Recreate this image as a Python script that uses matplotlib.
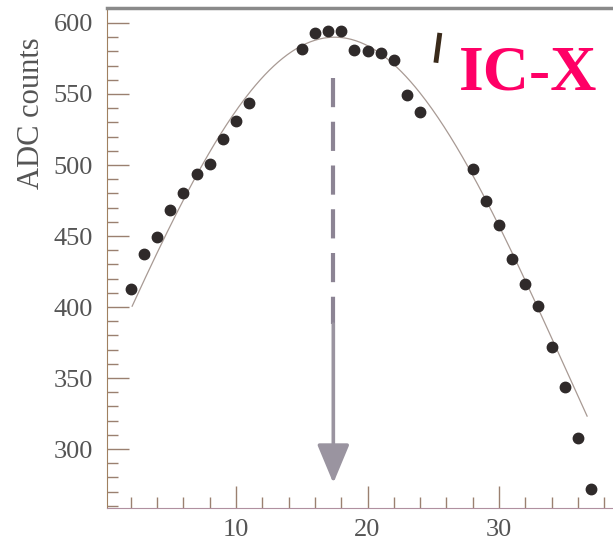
import matplotlib
matplotlib.use('Agg')
import matplotlib.pyplot as plt
import numpy as np

# measured points (channel, ADC counts)
channel = [2, 3, 4, 5, 6, 7, 8, 9, 10, 11,
           15, 16, 17, 18, 19, 20, 21, 22, 23, 24,
           28, 29, 30, 31, 32, 33, 34, 35, 36, 37]
adc = [413, 437, 449, 468, 480, 494, 501, 518, 531, 544,
       582, 593, 594, 594, 581, 580, 579, 574, 549, 537,
       497, 475, 458, 434, 416, 401, 372, 344, 308, 272]

# gaussian fit
fit_amp = 590
fit_mean = 17.5
fit_sigma = 17.5
fit_range = [2.1, 36.7]

# arrow marking the peak
arrow_x = 17.4
arrow_dash_top = 561
arrow_solid_top = 388
arrow_tip = 276

# stray dark stroke left of the label
stroke_x = [25.2, 25.5]
stroke_y = [572, 593]

yticks = [300, 350, 400, 450, 500, 550, 600]
xticks = [10, 20, 30]

plt.rcParams['font.family'] = ['Liberation Serif', 'DejaVu Serif']

fig = plt.figure(figsize=(6.13, 5.55), dpi=100)
ax = fig.add_axes([0.1746, 0.0847, 0.8254, 0.9])

xs = np.linspace(fit_range[0], fit_range[1], 300)
ax.plot(xs, fit_amp * np.exp(-(xs - fit_mean) ** 2 / (2 * fit_sigma ** 2)),
        color='#a89a94', lw=0.9, zorder=2)
ax.plot(channel, adc, 'o', color='#2f2a2a', markersize=7.5, zorder=3)

ax.plot([arrow_x, arrow_x], [arrow_dash_top, arrow_solid_top], color='#8c8494',
        lw=3, dashes=(7, 3.5), zorder=2)
ax.annotate('', xy=(arrow_x, arrow_tip), xytext=(arrow_x, arrow_solid_top),
            arrowprops=dict(arrowstyle='-|>,head_length=2.4,head_width=1.0', mutation_scale=10,
                            color='#9a94a0', lw=2.6, shrinkA=0, shrinkB=0), zorder=2)

ax.plot(stroke_x, stroke_y, color='#3a2a1a', lw=3.5, solid_capstyle='butt', zorder=3)

ax.text(0.968, 0.868, 'IC-X', transform=ax.transAxes, ha='right', va='center',
        fontsize=46, fontweight='bold', color='#ff0066',
        bbox=dict(facecolor='white', edgecolor='none', pad=5), zorder=4)

ax.set_xlim(0.19, 38.67)
ax.set_ylim(258.5, 610.2)
ax.set_yticks(yticks)
ax.set_yticks(np.arange(260, 610, 10), minor=True)
ax.set_xticks(xticks)
ax.set_xticks(np.arange(2, 39, 2), minor=True)
ax.tick_params(axis='both', which='major', direction='in', length=16, width=1,
               color='#9a8070', labelsize=19, labelcolor='#555555')
ax.tick_params(axis='both', which='minor', direction='in', length=8, width=1, color='#9a8070')
ax.tick_params(axis='x', which='major', pad=8)
ax.tick_params(axis='y', which='major', pad=10)

ax.spines['right'].set_visible(False)
ax.spines['top'].set_color('#8a8a8a')
ax.spines['top'].set_linewidth(2.5)
ax.spines['left'].set_color('#a08060')
ax.spines['bottom'].set_color('#b090a0')

ax.set_ylabel('ADC counts', fontsize=22, color='#555555')
ax.yaxis.set_label_coords(-0.12, 0.79)

plt.savefig('out.png', dpi=100)
